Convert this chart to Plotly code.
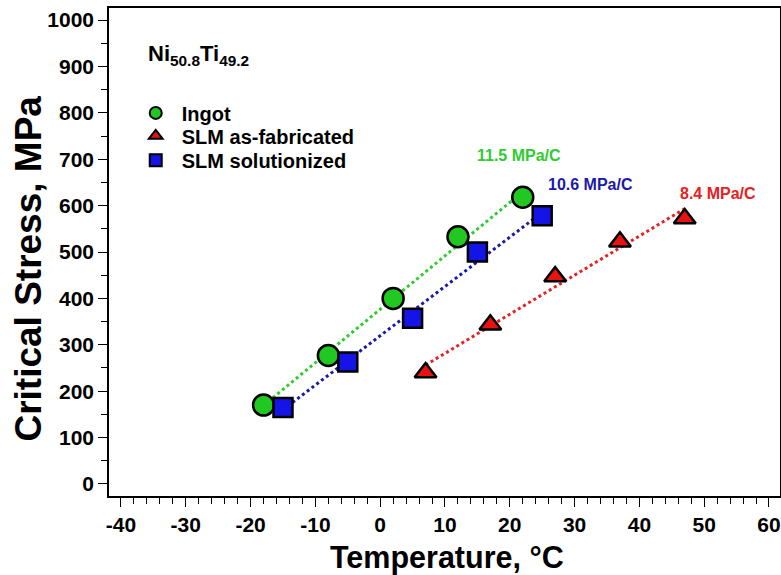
import numpy as np
import plotly.graph_objects as go

# Data
ingot_T = [-18, -8, 2, 12, 22]
ingot_S = [170, 277, 400, 533, 618]
asfab_T = [7, 17, 27, 37, 47]
asfab_S = [240, 343, 447, 522, 572]
sol_T = [-15, -5, 5, 15, 25]
sol_S = [165, 263, 357, 500, 578]

series_names = ["Ingot", "SLM as-fabricated", "SLM solutionized"]
slope_labels = ["11.5 MPa/C", "8.4 MPa/C", "10.6 MPa/C"]
x_ticks = [-40, -30, -20, -10, 0, 10, 20, 30, 40, 50, 60]
y_ticks = [0, 100, 200, 300, 400, 500, 600, 700, 800, 900, 1000]

GREEN = "#22c822"
RED = "#e81212"
BLUE = "#1414e6"
LGREEN = "#2ecc2e"
LRED = "#e82020"
LBLUE = "#1a1aa8"
FONT = "Liberation Sans, Arial, sans-serif"

fig = go.Figure()

def fit_line(T, S, color):
    p = np.polyfit(T, S, 1)
    xs = np.array([min(T), max(T)], dtype=float)
    fig.add_trace(go.Scatter(x=xs, y=np.polyval(p, xs), mode="lines",
                             line=dict(color=color, dash="dot", width=3),
                             showlegend=False, hoverinfo="skip"))

fit_line(ingot_T, ingot_S, LGREEN)
fit_line(sol_T, sol_S, LBLUE)
fit_line(asfab_T, asfab_S, LRED)

mline = dict(color="black", width=2.5)
fig.add_trace(go.Scatter(x=ingot_T, y=ingot_S, mode="markers", showlegend=False,
                         marker=dict(symbol="circle", size=21, color=GREEN, line=mline)))
fig.add_trace(go.Scatter(x=sol_T, y=sol_S, mode="markers", showlegend=False,
                         marker=dict(symbol="square", size=19, color=BLUE, line=mline)))
fig.add_trace(go.Scatter(x=asfab_T, y=asfab_S, mode="markers", showlegend=False,
                         marker=dict(symbol="triangle-up", size=19, color=RED, line=mline)))

# legend entries: one legend per row so the rows can be spaced like the reference
legend_ids = ["legend", "legend2", "legend3"]
legend_rows_y = [0.785, 0.738, 0.688]
for name, sym, col, lid in zip(series_names, ["circle", "triangle-up", "square"],
                               [GREEN, RED, BLUE], legend_ids):
    fig.add_trace(go.Scatter(x=[None], y=[None], mode="markers", name="<b>%s</b>" % name,
                             legend=lid,
                             marker=dict(symbol=sym, size=11, color=col,
                                         line=dict(color="black", width=2.5))))

# slope annotations
ann_pos = [(21.4, 707, LGREEN), (52.1, 627, LRED), (32.5, 646, LBLUE)]
for txt, (ax_, ay_, c) in zip(slope_labels, ann_pos):
    fig.add_annotation(x=ax_, y=ay_, text="<b>%s</b>" % txt, showarrow=False,
                       font=dict(family=FONT, size=16, color=c), xanchor="center",
                       yanchor="middle")

fig.add_annotation(xref="paper", yref="paper", x=0.055, y=0.904, xanchor="left",
                   yanchor="middle", showarrow=False,
                   text="<b>Ni<sub>50.8</sub>Ti<sub>49.2</sub></b>",
                   font=dict(family=FONT, size=22, color="black"))

# axis titles
fig.add_annotation(xref="paper", yref="paper", x=-0.12, y=0.467, textangle=-90,
                   xanchor="center", yanchor="middle", showarrow=False,
                   text="<b>Critical Stress, MPa</b>",
                   font=dict(family=FONT, size=37, color="black"))
fig.add_annotation(xref="paper", yref="paper", x=0.5037, y=-0.125,
                   xanchor="center", yanchor="middle", showarrow=False,
                   text="<b>Temperature, °C</b>",
                   font=dict(family=FONT, size=30.5, color="black"))

axis_common = dict(showline=True, linecolor="black", linewidth=1.5, mirror=True,
                   ticks="outside", ticklen=9, tickwidth=1.2, tickcolor="black",
                   showgrid=False, zeroline=False, automargin=False,
                   tickfont=dict(family=FONT, size=21, color="black"))

fig.update_xaxes(range=[-41.85, 61.7], tickvals=x_ticks,
                 ticktext=["<b>%d</b>" % v for v in x_ticks],
                 minor=dict(dtick=2, ticks="outside", ticklen=6, tickcolor="black", tickwidth=1),
                 **axis_common)
fig.update_yaxes(range=[-26, 1026], tickvals=y_ticks,
                 ticktext=["<b>%d</b>" % v for v in y_ticks],
                 minor=dict(dtick=50, ticks="outside", ticklen=6, tickcolor="black", tickwidth=1),
                 **axis_common)

leg_common = dict(x=0.0309, xanchor="left", yanchor="middle",
                  bgcolor="rgba(0,0,0,0)", itemwidth=42,
                  font=dict(family=FONT, size=20, color="black"),
                  itemsizing="constant")

fig.update_layout(
    width=781, height=575,
    margin=dict(l=109, r=1, t=8, b=79),
    paper_bgcolor="white", plot_bgcolor="white",
    font=dict(family=FONT, color="black"),
    legend=dict(y=legend_rows_y[0], **leg_common),
    legend2=dict(y=legend_rows_y[1], **leg_common),
    legend3=dict(y=legend_rows_y[2], **leg_common),
)

# remove the browser's default 8px body margin so the 781x575 figure fills the window
fig.write_html("out.html", config={"displayModeBar": False},
               post_script="document.body.style.margin='0';document.body.style.overflow='hidden';")
